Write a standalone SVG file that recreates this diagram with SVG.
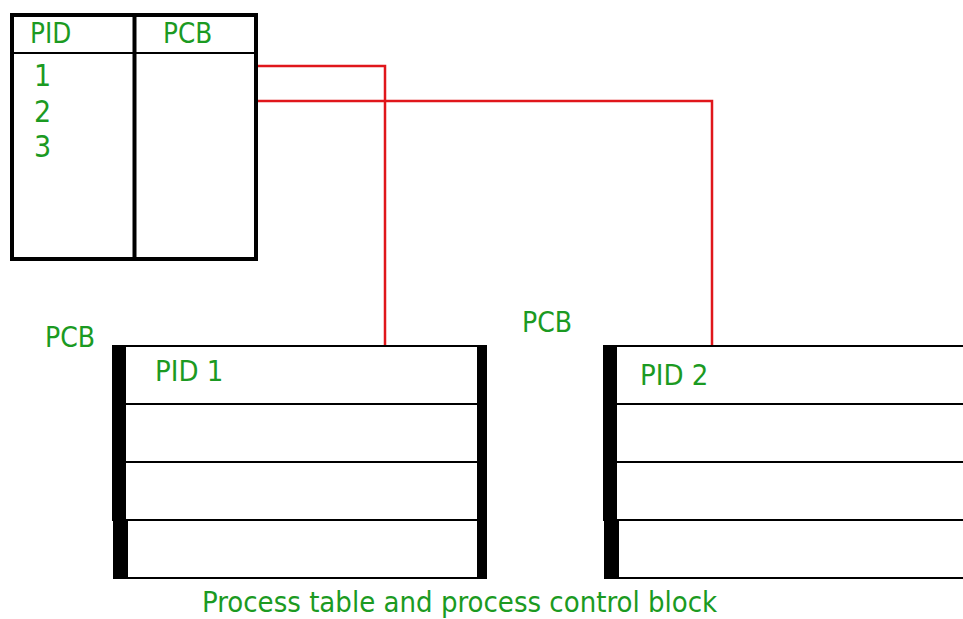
<svg xmlns="http://www.w3.org/2000/svg" width="963" height="619" viewBox="0 0 963 619">
  <style>
    .lbl { font-family: "DejaVu Sans Condensed", "DejaVu Sans", sans-serif; font-stretch: condensed; fill: #1b9a22; }
    .frame { fill: none; stroke: #000; stroke-width: 4; }
    .rule { stroke: #000; stroke-width: 2; fill: none; }
    .bar { fill: #000; }
    .link { fill: none; stroke: #e0161b; stroke-width: 2.5; }
  </style>
  <rect width="963" height="619" fill="#fff"/>

  <!-- process table -->
  <g id="process-table">
    <rect class="frame" x="12" y="15" width="244" height="244"/>
    <line class="frame" x1="134.5" y1="15" x2="134.5" y2="259"/>
    <line class="rule" x1="12" y1="53" x2="256" y2="53"/>
    <text class="lbl" x="30" y="43" font-size="27.5">PID</text>
    <text class="lbl" x="163" y="43" font-size="27.5">PCB</text>
    <text class="lbl" x="34" y="86" font-size="30">1</text>
    <text class="lbl" x="34" y="122" font-size="30">2</text>
    <text class="lbl" x="34" y="157" font-size="30">3</text>
  </g>

  <!-- connectors from table entries to their PCBs -->
  <g id="connectors">
    <polyline class="link" points="258,66 385,66 385,345"/>
    <polyline class="link" points="258,101 712,101 712,345"/>
  </g>

  <!-- PCB of process 1 -->
  <g id="pcb-1">
    <text class="lbl" x="45" y="347" font-size="28">PCB</text>
    <line class="rule" x1="112" y1="346" x2="487" y2="346"/>
    <line class="rule" x1="112" y1="404" x2="487" y2="404"/>
    <line class="rule" x1="112" y1="462" x2="487" y2="462"/>
    <line class="rule" x1="112" y1="520" x2="487" y2="520"/>
    <line class="rule" x1="113" y1="578" x2="487" y2="578"/>
    <rect class="bar" x="112" y="345" width="14" height="176"/>
    <rect class="bar" x="113" y="519" width="15" height="60"/>
    <rect class="bar" x="477" y="345" width="10" height="234"/>
    <text class="lbl" x="155" y="381" font-size="29">PID 1</text>
  </g>

  <!-- PCB of process 2 -->
  <g id="pcb-2">
    <text class="lbl" x="522" y="332" font-size="28">PCB</text>
    <line class="rule" x1="603" y1="346" x2="963" y2="346"/>
    <line class="rule" x1="603" y1="404" x2="963" y2="404"/>
    <line class="rule" x1="603" y1="462" x2="963" y2="462"/>
    <line class="rule" x1="603" y1="520" x2="963" y2="520"/>
    <line class="rule" x1="604" y1="578" x2="963" y2="578"/>
    <rect class="bar" x="603" y="345" width="14" height="176"/>
    <rect class="bar" x="604" y="519" width="15" height="60"/>
    <text class="lbl" x="640" y="385" font-size="29">PID 2</text>
  </g>

  <text class="lbl" x="202" y="612" font-size="29">Process table and process control block</text>
</svg>
